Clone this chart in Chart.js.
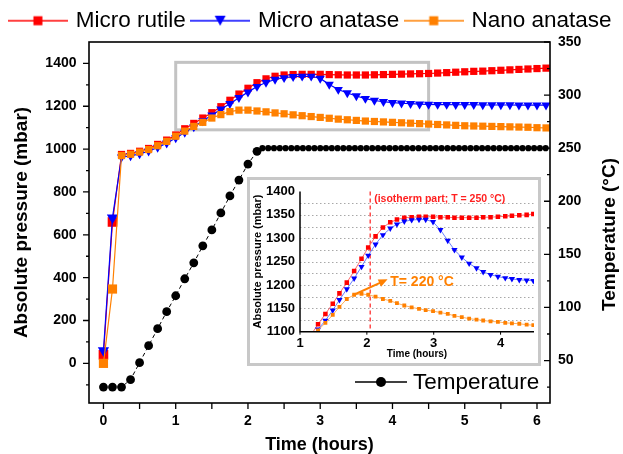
<!DOCTYPE html>
<html><head><meta charset="utf-8">
<script src="https://cdn.jsdelivr.net/npm/chart.js@4.4.1/dist/chart.umd.min.js"></script>
<style>
html,body{margin:0;padding:0;background:#fff;}
#wrap{position:relative;width:623px;height:454px;overflow:hidden;}
#main{position:absolute;left:0;top:0;}
#insetBox{position:absolute;left:247px;top:177px;width:288px;height:183px;border:3px solid #c8c8c8;background:#fff;}
#inset{position:absolute;left:0;top:0;}
</style></head>
<body>
<div id="wrap">
<canvas id="main" width="623" height="454"></canvas>
<div id="insetBox"><canvas id="inset" width="288" height="183"></canvas></div>
</div>
<script>
// ---------------- DATA ----------------
const seriesNames = ['Micro rutile', 'Micro anatase', 'Nano anatase'];
const tempName = 'Temperature';

// main chart: time (hours)
const mainTimes = [0,0.125,0.25,0.375,0.5,0.625,0.75,0.875,
  1,1.125,1.25,1.375,1.5,1.625,1.75,1.875,
  2,2.125,2.25,2.375,2.5,2.625,2.75,2.875,
  3,3.125,3.25,3.375,3.5,3.625,3.75,3.875,
  4,4.125,4.25,4.375,4.5,4.625,4.75,4.875,
  5,5.125,5.25,5.375,5.5,5.625,5.75,5.875,
  6,6.125];
const microRutile = [40,660,975,980,990,1003,1022,1042,
  1066,1095,1120,1145,1170,1198,1228,1257,
  1284,1310,1328,1340,1346,1348,1349,1349,
  1349,1348,1347,1346,1346,1346,1347,1348,
  1349,1350,1351,1352,1353,1355,1357,1359,
  1361,1363,1364,1366,1368,1370,1372,1374,
  1376,1378];
const microAnatase = [60,680,962,968,978,990,1008,1028,
  1052,1078,1104,1132,1158,1186,1212,1240,
  1266,1292,1311,1325,1333,1338,1340,1340,
  1330,1302,1278,1262,1248,1236,1227,1221,
  1217,1214,1212,1210,1209,1208,1208,1207,
  1207,1207,1206,1206,1206,1206,1205,1205,
  1205,1205];
const nanoAnatase = [0,347,970,976,986,998,1016,1036,
  1060,1084,1106,1125,1145,1161,1175,1182,
  1182,1178,1174,1169,1165,1160,1156,1152,
  1148,1144,1140,1137,1134,1131,1129,1127,
  1125,1123,1121,1119,1117,1115,1113,1111,
  1109,1108,1107,1106,1105,1104,1103,1102,
  1100,1099];

const tempTimes = [0,0.125,0.25,0.375,0.5,0.625,0.75,0.875,1,1.125,1.25,1.375,1.5,1.625,1.75,1.875,2,2.125,
  2.2,2.28,2.36,2.44,2.52,2.6,2.68,2.76,2.84,2.92,
  3,3.08,3.16,3.24,3.32,3.4,3.48,3.56,3.64,3.72,
  3.8,3.88,3.96,4.04,4.12,4.2,4.28,4.36,4.44,4.52,
  4.6,4.68,4.76,4.84,4.92,5,5.08,5.16,5.24,5.32,
  5.4,5.48,5.56,5.64,5.72,5.8,5.88,5.96,6.04,6.12];
const temperature = [25,25,25,32,48,64,80,96,111,127,142,158,173,189,205,220,235,247,
  250,250,250,250,250,250,250,250,250,250,
  250,250,250,250,250,250,250,250,250,250,
  250,250,250,250,250,250,250,250,250,250,
  250,250,250,250,250,250,250,250,250,250,
  250,250,250,250,250,250,250,250,250,250];

// main axes ticks
const xTickLabels = [0,1,2,3,4,5,6];
const xTickMarks = [0,0.5,1,1.5,2,2.5,3,3.5,4,4.5,5,5.5,6];
const pressureTicks = [0,200,400,600,800,1000,1200,1400];
const pressureMinor = [-100,100,300,500,700,900,1100,1300];
const tempTicks = [50,100,150,200,250,300,350];
const tempMinor = [25,75,125,175,225,275,325];
const zoomBoxTime = [1, 4.5];
const zoomBoxPressure = [1090, 1405];

// inset data
const insetTimes = [1.16,1.27,1.38,1.49,1.59,1.70,1.81,1.92,2.02,2.13,2.24,2.35,2.45,2.56,2.67,2.78,
  2.88,2.99,3.10,3.21,3.31,3.42,3.53,3.64,3.74,3.85,3.96,4.07,4.17,4.28,4.39,4.49];
const insetRutile = [1092,1116,1138,1160,1182,1205,1230,1256,1280,1304,1323,1334,1340,1344,1345,1346,
  1346,1346,1345,1345,1344,1344,1344,1344,1345,1345,1346,1347,1348,1349,1350,1352];
const insetAnatase = [1083,1105,1124,1146,1168,1191,1214,1239,1263,1287,1307,1321,1330,1336,1339,1340,
  1340,1335,1318,1295,1275,1259,1246,1236,1228,1222,1218,1215,1213,1211,1210,1209];
const insetNano = [1088,1103,1119,1136,1153,1170,1179,1181,1179,1175,1170,1166,1161,1156,1152,1149,
  1146,1144,1141,1138,1134,1131,1128,1126,1124,1122,1121,1119,1118,1117,1115,1114];
const insetXTicks = [1,2,3,4];
const insetYTicks = [1100,1150,1200,1250,1300,1350,1400];
const insetGrid = [1125,1150,1175,1200,1225,1250,1275,1300,1325,1350,1375];
const isothermTime = 2.05;
const isothermLabel = '(isotherm part; T = 250 °C)';
const isothermLabelPos = [2.05, 1384];
const t220Label = 'T= 220 °C';
const t220LabelPos = [2.35, 1207];
const arrowFrom = [1.79, 1178];
const arrowTo = [2.31, 1212];

// ---------------- STYLE ----------------
const FONT = '"Liberation Sans", Arial, Helvetica, sans-serif';
Chart.defaults.font.family = FONT;
Chart.defaults.color = '#000';
const RED = '#ff0000', BLUE = '#0000ff', ORANGE = '#ff8000';

function symbol(color, shape) {
  const c = document.createElement('canvas');
  c.width = 60; c.height = 14;
  const g = c.getContext('2d');
  g.strokeStyle = color; g.globalAlpha = 0.75; g.lineWidth = 2;
  g.beginPath(); g.moveTo(0, 7); g.lineTo(60, 7); g.stroke();
  g.globalAlpha = 1; g.fillStyle = color;
  if (shape === 'rect') { g.fillRect(25.5, 2.5, 9, 9); }
  else { g.beginPath(); g.moveTo(24.5, 2); g.lineTo(35.5, 2); g.lineTo(30, 12); g.closePath(); g.fill(); }
  return c;
}
const legendSymbols = [symbol(RED, 'rect'), symbol(BLUE, 'tri'), symbol(ORANGE, 'rect')];

const pts = arr => (t, i) => ({x: t, y: arr[i]});

const mainDecor = {
  id: 'mainDecor',
  beforeDatasetsDraw(chart) {
    const {ctx, scales: {x, y}} = chart;
    ctx.save();
    ctx.strokeStyle = '#c3c3c3'; ctx.lineWidth = 3;
    const x0 = x.getPixelForValue(zoomBoxTime[0]), x1 = x.getPixelForValue(zoomBoxTime[1]);
    const y0 = y.getPixelForValue(zoomBoxPressure[1]), y1p = y.getPixelForValue(zoomBoxPressure[0]);
    ctx.strokeRect(x0, y0, x1 - x0, y1p - y0);
    ctx.restore();
  },
  afterDraw(chart) {
    const {ctx, chartArea: ca, scales: {x, y, y1}} = chart;
    ctx.save();
    ctx.strokeStyle = '#000'; ctx.lineWidth = 1.6;
    ctx.strokeRect(ca.left, ca.top, ca.right - ca.left, ca.bottom - ca.top);
    ctx.lineWidth = 1.3;
    ctx.beginPath();
    xTickMarks.forEach(v => { const p = x.getPixelForValue(v); ctx.moveTo(p, ca.bottom); ctx.lineTo(p, ca.bottom + 6); });
    pressureTicks.forEach(v => { const p = y.getPixelForValue(v); ctx.moveTo(ca.left, p); ctx.lineTo(ca.left - 6, p); });
    pressureMinor.forEach(v => { const p = y.getPixelForValue(v); ctx.moveTo(ca.left, p); ctx.lineTo(ca.left - 3, p); });
    tempTicks.forEach(v => { const p = y1.getPixelForValue(v); ctx.moveTo(ca.right, p); ctx.lineTo(ca.right - 6, p); });
    tempMinor.forEach(v => { const p = y1.getPixelForValue(v); ctx.moveTo(ca.right, p); ctx.lineTo(ca.right - 3, p); });
    ctx.stroke();
    // right axis title (reads bottom-to-top)
    ctx.save();
    ctx.translate(chart.width - 13, (ca.top + ca.bottom) / 2 + 12);
    ctx.rotate(-Math.PI / 2);
    ctx.font = 'bold 19px ' + FONT; ctx.fillStyle = '#000';
    ctx.textAlign = 'center'; ctx.textBaseline = 'middle';
    ctx.fillText('Temperature (°C)', 0, 0);
    ctx.restore();
    // temperature legend
    const ly = ca.bottom - 21;
    ctx.lineWidth = 1.5; ctx.strokeStyle = '#000';
    ctx.beginPath(); ctx.moveTo(ca.right - 195, ly); ctx.lineTo(ca.right - 143, ly); ctx.stroke();
    ctx.fillStyle = '#000';
    ctx.beginPath(); ctx.arc(ca.right - 169, ly, 5, 0, Math.PI * 2); ctx.fill();
    ctx.font = '22.5px ' + FONT; ctx.textAlign = 'left'; ctx.textBaseline = 'middle';
    ctx.fillText(tempName, ca.right - 137, ly + 1);
    ctx.restore();
  }
};

new Chart(document.getElementById('main'), {
  type: 'line',
  data: {
    datasets: [
      {label: seriesNames[0], data: mainTimes.map(pts(microRutile)), yAxisID: 'y', order: 3,
       borderColor: RED, borderWidth: 1.2, backgroundColor: RED, pointBackgroundColor: RED, pointBorderWidth: 0,
       pointStyle: 'rect', pointRadius: c => c.dataIndex < 2 ? 6.8 : 5.1},
      {label: seriesNames[1], data: mainTimes.map(pts(microAnatase)), yAxisID: 'y', order: 2,
       borderColor: BLUE, borderWidth: 1.2, backgroundColor: BLUE, pointBackgroundColor: BLUE, pointBorderWidth: 0,
       pointStyle: 'triangle', pointRotation: 180, pointRadius: c => c.dataIndex < 2 ? 6.5 : 5.3},
      {label: seriesNames[2], data: mainTimes.map(pts(nanoAnatase)), yAxisID: 'y', order: 1,
       borderColor: ORANGE, borderWidth: 1.2, backgroundColor: ORANGE, pointBackgroundColor: ORANGE, pointBorderWidth: 0,
       pointStyle: 'rect', pointRadius: c => c.dataIndex < 2 ? 6.5 : 5.1},
      {label: tempName, data: tempTimes.map(pts(temperature)), yAxisID: 'y1', order: 0,
       borderColor: '#000', borderWidth: 1, borderDash: [4, 3], backgroundColor: '#000',
       pointBackgroundColor: '#000', pointBorderWidth: 0, pointStyle: 'circle',
       pointRadius: c => (c.raw && c.raw.x > 2.15) ? 3.1 : 4.4}
    ]
  },
  options: {
    responsive: false, animation: false, devicePixelRatio: 1, events: [],
    layout: {padding: {top: 1.5, left: 0, right: 0, bottom: 0}},
    plugins: {
      tooltip: {enabled: false},
      legend: {
        display: true, position: 'top', align: 'center',
        labels: {
          usePointStyle: true, pointStyleWidth: 53, padding: 8, color: '#000',
          font: {size: 22.5, family: FONT},
          generateLabels: () => seriesNames.map((n, i) => ({
            text: n, datasetIndex: i, hidden: false, lineWidth: 0,
            fillStyle: '#000', strokeStyle: '#000', fontColor: '#000', pointStyle: legendSymbols[i]
          }))
        }
      }
    },
    scales: {
      x: {
        type: 'linear', position: 'bottom', min: -0.2, max: 6.18,
        grid: {display: false, drawTicks: false}, border: {display: false},
        afterBuildTicks: s => { s.ticks = xTickLabels.map(v => ({value: v})); },
        afterFit: s => { s.height = 51; },
        ticks: {autoSkip: false, maxRotation: 0, padding: 11.5, color: '#000',
                font: {size: 14, weight: 'bold', lineHeight: 1}, callback: v => String(v)},
        title: {display: true, text: 'Time (hours)', color: '#000',
                font: {size: 18, weight: 'bold', lineHeight: 1}, padding: {top: 0, bottom: 0}}
      },
      y: {
        type: 'linear', position: 'left', min: -185, max: 1500,
        grid: {display: false, drawTicks: false}, border: {display: false},
        afterBuildTicks: s => { s.ticks = pressureTicks.map(v => ({value: v})); },
        afterFit: s => { s.width = 89; },
        ticks: {autoSkip: false, padding: 12.5, color: '#000',
                font: {size: 14, weight: 'bold', lineHeight: 1}, callback: v => String(v)},
        title: {display: true, text: 'Absolute pressure (mbar)', color: '#000',
                font: {size: 19, weight: 'bold', lineHeight: 1}, padding: {top: 12.5, bottom: 0}}
      },
      y1: {
        type: 'linear', position: 'right', min: 10, max: 350,
        grid: {display: false, drawTicks: false}, border: {display: false},
        afterBuildTicks: s => { s.ticks = tempTicks.map(v => ({value: v})); },
        afterFit: s => { s.width = 73; },
        ticks: {autoSkip: false, padding: 8, color: '#000',
                font: {size: 14, weight: 'bold', lineHeight: 1}, callback: v => String(v)},
        title: {display: false}
      }
    }
  },
  plugins: [mainDecor]
});

// ---------------- INSET ----------------
const insetDecor = {
  id: 'insetDecor',
  beforeDatasetsDraw(chart) {
    const {ctx, chartArea: ca, scales: {x, y}} = chart;
    ctx.save();
    ctx.strokeStyle = '#a8a8a8'; ctx.lineWidth = 1; ctx.setLineDash([1.5, 2.5]);
    ctx.beginPath();
    insetGrid.forEach(v => { const p = Math.round(y.getPixelForValue(v)) + 0.5; ctx.moveTo(ca.left, p); ctx.lineTo(ca.right, p); });
    ctx.stroke();
    ctx.strokeStyle = '#ff3030'; ctx.lineWidth = 1.3; ctx.setLineDash([4, 3]);
    const xi = x.getPixelForValue(isothermTime);
    ctx.beginPath(); ctx.moveTo(xi, ca.top); ctx.lineTo(xi, ca.bottom); ctx.stroke();
    ctx.restore();
  },
  afterDatasetsDraw(chart) {
    const {ctx, chartArea: ca, scales: {x, y}} = chart;
    ctx.save();
    ctx.strokeStyle = '#000'; ctx.lineWidth = 1.5;
    ctx.beginPath();
    ctx.moveTo(ca.left, ca.top); ctx.lineTo(ca.left, ca.bottom); ctx.lineTo(ca.right, ca.bottom);
    ctx.stroke();
    ctx.lineWidth = 1;
    ctx.beginPath();
    insetXTicks.forEach(v => { const p = x.getPixelForValue(v); ctx.moveTo(p, ca.bottom); ctx.lineTo(p, ca.bottom + 3); });
    ctx.stroke();
    // isotherm label
    ctx.fillStyle = '#ff2020'; ctx.font = 'bold 10.5px ' + FONT;
    ctx.textAlign = 'left'; ctx.textBaseline = 'middle';
    ctx.fillText(isothermLabel, x.getPixelForValue(isothermLabelPos[0]) + 4, y.getPixelForValue(isothermLabelPos[1]));
    // arrow
    const ax0 = x.getPixelForValue(arrowFrom[0]), ay0 = y.getPixelForValue(arrowFrom[1]);
    const ax1 = x.getPixelForValue(arrowTo[0]), ay1 = y.getPixelForValue(arrowTo[1]);
    const ang = Math.atan2(ay1 - ay0, ax1 - ax0);
    ctx.strokeStyle = ORANGE; ctx.fillStyle = ORANGE; ctx.lineWidth = 2;
    ctx.beginPath(); ctx.moveTo(ax0, ay0);
    ctx.lineTo(ax1 - 6 * Math.cos(ang), ay1 - 6 * Math.sin(ang)); ctx.stroke();
    ctx.beginPath(); ctx.moveTo(ax1, ay1);
    ctx.lineTo(ax1 - 9 * Math.cos(ang) + 4 * Math.sin(ang), ay1 - 9 * Math.sin(ang) - 4 * Math.cos(ang));
    ctx.lineTo(ax1 - 9 * Math.cos(ang) - 4 * Math.sin(ang), ay1 - 9 * Math.sin(ang) + 4 * Math.cos(ang));
    ctx.closePath(); ctx.fill();
    ctx.font = 'bold 14px ' + FONT;
    ctx.fillText(t220Label, x.getPixelForValue(t220LabelPos[0]), y.getPixelForValue(t220LabelPos[1]));
    ctx.restore();
  }
};

new Chart(document.getElementById('inset'), {
  type: 'line',
  data: {
    datasets: [
      {label: seriesNames[0], data: insetTimes.map(pts(insetRutile)), order: 3,
       borderColor: '#ff6a6a', borderWidth: 1, pointBackgroundColor: RED, pointBorderWidth: 0,
       pointStyle: 'rect', pointRadius: 3.2},
      {label: seriesNames[1], data: insetTimes.map(pts(insetAnatase)), order: 2,
       borderColor: '#6a80ff', borderWidth: 1, pointBackgroundColor: BLUE, pointBorderWidth: 0,
       pointStyle: 'triangle', pointRotation: 180, pointRadius: 3.6},
      {label: seriesNames[2], data: insetTimes.map(pts(insetNano)), order: 1,
       borderColor: '#ffb060', borderWidth: 1, pointBackgroundColor: ORANGE, pointBorderWidth: 0,
       pointStyle: 'rect', pointRadius: 2.7}
    ]
  },
  options: {
    responsive: false, animation: false, devicePixelRatio: 1, events: [],
    layout: {padding: {top: 7.3, right: 2.5, left: 0, bottom: 0}},
    plugins: {legend: {display: false}, tooltip: {enabled: false}},
    scales: {
      x: {
        type: 'linear', min: 1, max: 4.5,
        grid: {display: false, drawTicks: false}, border: {display: false},
        afterBuildTicks: s => { s.ticks = insetXTicks.map(v => ({value: v})); },
        afterFit: s => { s.height = 31.3; },
        ticks: {autoSkip: false, maxRotation: 0, padding: 5, color: '#000',
                font: {size: 13, weight: 'bold', lineHeight: 1}, callback: v => String(v)},
        title: {display: true, text: 'Time (hours)', color: '#000',
                font: {size: 10, weight: 'bold', lineHeight: 1}, padding: {top: 0, bottom: 3.7}}
      },
      y: {
        type: 'linear', min: 1100, max: 1400,
        grid: {display: false, drawTicks: false}, border: {display: false},
        afterBuildTicks: s => { s.ticks = insetYTicks.map(v => ({value: v})); },
        afterFit: s => { s.width = 50; },
        ticks: {autoSkip: false, padding: 5, color: '#000',
                font: {size: 13, weight: 'bold', lineHeight: 1}, callback: v => String(v)},
        title: {display: true, text: 'Absolute pressure (mbar)', color: '#000',
                font: {size: 11, weight: 'bold', lineHeight: 1}, padding: {top: 2.8, bottom: 0}}
      }
    }
  },
  plugins: [insetDecor]
});
</script>
</body></html>
